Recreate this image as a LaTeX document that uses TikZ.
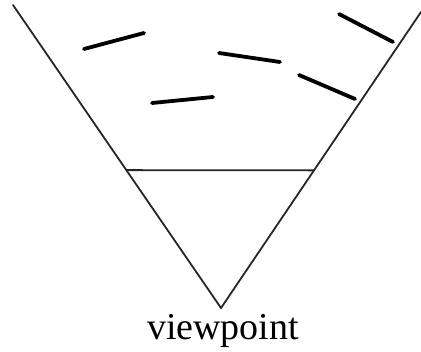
\documentclass[tikz,border=0pt]{standalone}
\usepackage{fontspec}
\setmainfont{Liberation Serif}
\usetikzlibrary{calc}

\begin{document}
\begin{tikzpicture}[x=1pt,y=-1pt,line cap=round,
  rim/.style={line width=1.8pt,black!85},
  chip/.style={line width=3.8pt,black}]
\useasboundingbox (0,0) rectangle (421,352);
% ---- view cone ----
\coordinate (apex) at (221,308);
\coordinate (ltop) at (13,5);
\coordinate (rtop) at (421,12);
\draw[rim] (ltop) -- (apex) -- (rtop);
\coordinate (lcut) at ($(apex)!0.455!(ltop)$);
\coordinate (rcut) at ($(apex)!0.465!(rtop)$);
\draw[rim] (lcut) -- (rcut);
% ---- scattered segments in the scene ----
\foreach \xa/\ya/\xb/\yb in {84/49/144/33,152/103/213/97,219/53/280/62,299/75/355/99,339/14/393/42}{
  \draw[chip] (\xa,\ya) -- (\xb,\yb);}
% ---- label ----
\node[font=\fontsize{38}{40}\selectfont,anchor=base,inner sep=0pt] (view) at (223,340) {viewpoint};
\end{tikzpicture}
\end{document}
